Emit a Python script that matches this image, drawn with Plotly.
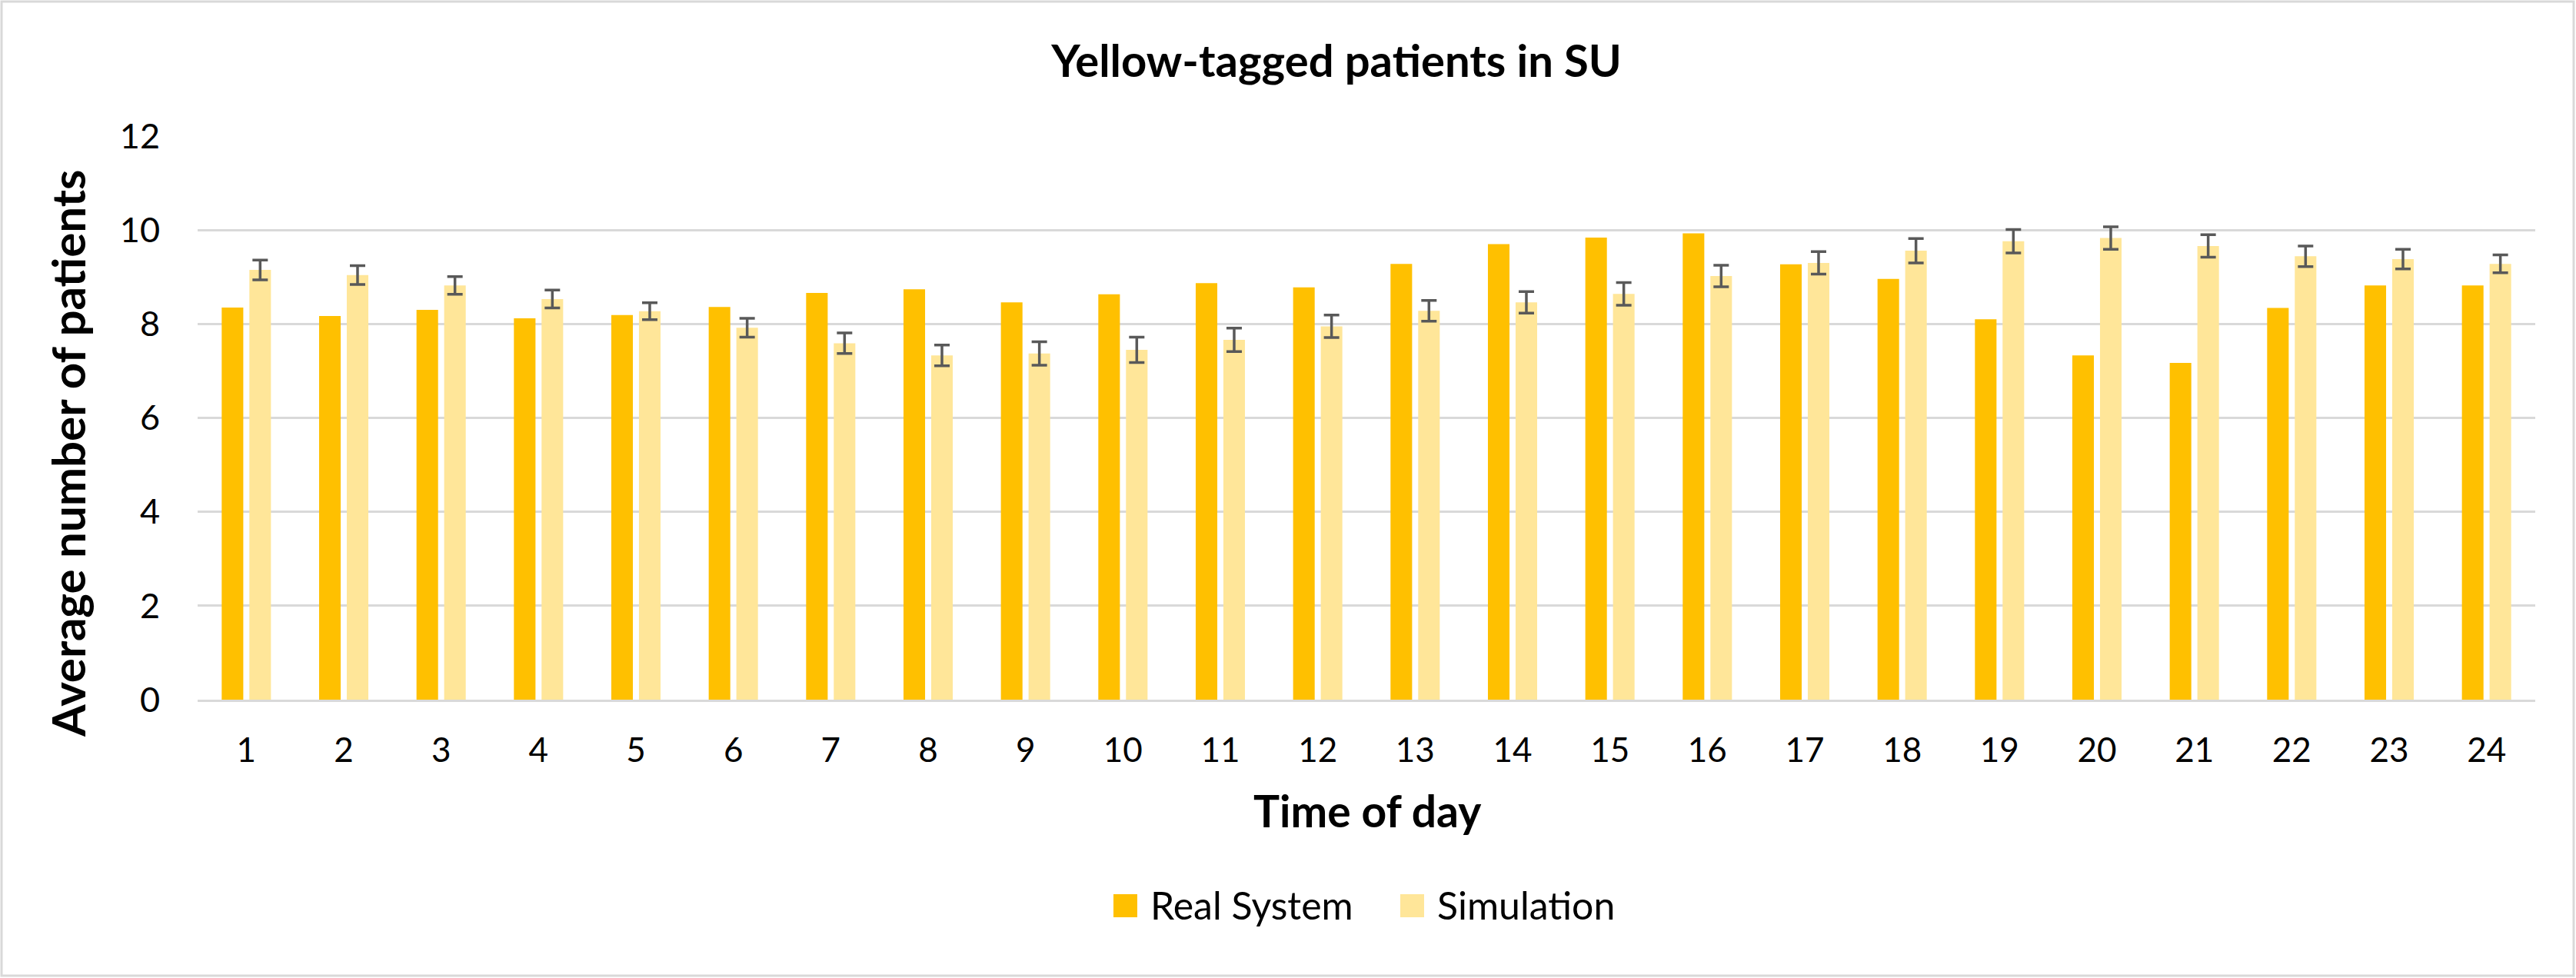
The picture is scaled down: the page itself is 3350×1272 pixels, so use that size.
import plotly.graph_objects as go

# data
hours = [str(h) for h in range(1, 25)]
real_system = [8.35, 8.17, 8.30, 8.12, 8.19, 8.36, 8.66, 8.74, 8.46, 8.63, 8.87, 8.78,
               9.28, 9.70, 9.84, 9.93, 9.27, 8.96, 8.10, 7.33, 7.17, 8.34, 8.82, 8.82]
simulation = [9.15, 9.04, 8.82, 8.53, 8.27, 7.92, 7.59, 7.33, 7.37, 7.45, 7.66, 7.95,
              8.28, 8.46, 8.64, 9.02, 9.30, 9.56, 9.76, 9.83, 9.66, 9.44, 9.38, 9.28]
sim_error = [0.21, 0.20, 0.19, 0.19, 0.18, 0.20, 0.22, 0.22, 0.25, 0.27, 0.25, 0.24,
             0.22, 0.23, 0.24, 0.23, 0.24, 0.26, 0.25, 0.24, 0.24, 0.22, 0.21, 0.19]
y_ticks = [0, 2, 4, 6, 8, 10, 12]

W, H = 3350, 1272
L, R, T, B = 257, 53, 177, 362
PW, PH = W - L - R, H - T - B

FONT = "Lato"
DARK = "#FFC000"
LIGHT = "#FFE699"
GRID = "#D9D9D9"


def px_x(x):
    return (x - L) / PW


def px_y(y):
    return 1 - (y - T) / PH


fig = go.Figure()
fig.add_trace(go.Bar(x=hours, y=real_system, name="Real System", marker_color=DARK,
                     marker_line_width=0))
fig.add_trace(go.Bar(x=hours, y=simulation, name="Simulation", marker_color=LIGHT,
                     marker_line_width=0,
                     error_y=dict(type="data", array=sim_error, color="#595959",
                                  thickness=3.5, width=10)))

fig.update_layout(
    width=W,
    height=H,
    margin=dict(l=L, r=R, t=T, b=B),
    paper_bgcolor="white",
    plot_bgcolor="white",
    barmode="group",
    bargap=0.432,
    bargroupgap=0.22,
    showlegend=False,
    font=dict(family=FONT, color="black"),
    title=dict(text="<b>Yellow-tagged patients in SU</b>", x=1738 / W, xanchor="center",
               y=1 - 80 / H, yanchor="middle", yref="container",
               font=dict(family=FONT, size=58, color="black")),
)

fig.update_xaxes(
    showgrid=False,
    showline=True,
    linecolor=GRID,
    linewidth=2.5,
    ticks="",
    tickfont=dict(family=FONT, size=44, color="black"),
    ticklabelstandoff=25,
)
fig.update_yaxes(
    range=[0, 12],
    tickvals=y_ticks,
    showgrid=True,
    gridcolor=GRID,
    gridwidth=2.5,
    zeroline=False,
    showline=False,
    ticks="",
    tickfont=dict(family=FONT, size=45, color="black"),
    ticklabelstandoff=48,
)

# axis titles
fig.add_annotation(text="<b>Average number of patients</b>", textangle=-90,
                   x=px_x(88), y=px_y(590), xref="paper", yref="paper",
                   xanchor="center", yanchor="middle", showarrow=False,
                   font=dict(family=FONT, size=60, color="black"))
fig.add_annotation(text="<b>Time of day</b>",
                   x=px_x(1778), y=px_y(1054), xref="paper", yref="paper",
                   xanchor="center", yanchor="middle", showarrow=False,
                   font=dict(family=FONT, size=57, color="black"))

# legend drawn by hand so the swatches can match the reference size
legend_items = [("Real System", DARK, 1448), ("Simulation", LIGHT, 1821)]
for label, color, x0 in legend_items:
    fig.add_shape(type="rect", xref="paper", yref="paper",
                  x0=px_x(x0), x1=px_x(x0 + 31), y0=px_y(1193), y1=px_y(1163),
                  fillcolor=color, line_width=0)
    fig.add_annotation(text=label, x=px_x(x0 + 46), y=px_y(1177), xref="paper", yref="paper",
                       xanchor="left", yanchor="middle", showarrow=False,
                       font=dict(family=FONT, size=50, color="black"))

# chart border
fig.add_shape(type="rect", xref="paper", yref="paper",
              x0=px_x(2), x1=px_x(W - 3), y0=px_y(H - 3), y1=px_y(2),
              line=dict(color=GRID, width=3), fillcolor="rgba(0,0,0,0)", layer="below")

# drop the browser's default page margin so the figure sits at (0, 0)
fig.write_html("out.html", config={"displayModeBar": False},
               post_script="document.body.style.margin='0';")
